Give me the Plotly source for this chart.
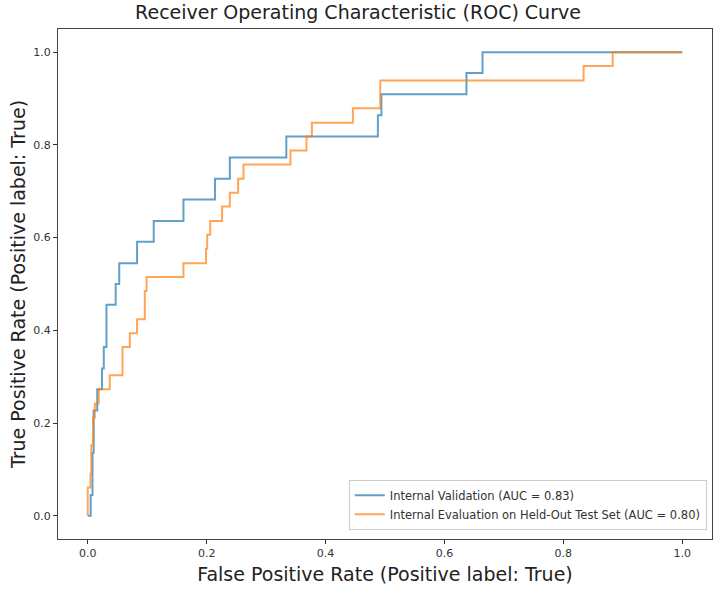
import plotly.graph_objects as go

# ROC corner points
val_fpr = [0.0, 0.005, 0.005, 0.008, 0.008, 0.010, 0.010, 0.016, 0.016, 0.024,
           0.024, 0.027, 0.027, 0.0315, 0.0315, 0.047, 0.047, 0.053, 0.053, 0.083,
           0.083, 0.111, 0.111, 0.161, 0.161, 0.214, 0.214, 0.239, 0.239, 0.334,
           0.334, 0.488, 0.488, 0.494, 0.494, 0.637, 0.637, 0.664, 0.664, 1.0]
val_tpr = [0.0, 0.0, 0.045, 0.045, 0.136, 0.136, 0.227, 0.227, 0.273, 0.273,
           0.318, 0.318, 0.364, 0.364, 0.455, 0.455, 0.5, 0.5, 0.545, 0.545,
           0.591, 0.591, 0.636, 0.636, 0.682, 0.682, 0.727, 0.727, 0.773, 0.773,
           0.818, 0.818, 0.864, 0.864, 0.909, 0.909, 0.955, 0.955, 1.0, 1.0]

test_fpr = [0.0, 0.0, 0.0046, 0.0046, 0.006, 0.006, 0.009, 0.009, 0.012, 0.012,
            0.0185, 0.0185, 0.037, 0.037, 0.0585, 0.0585, 0.0708, 0.0708, 0.083, 0.083,
            0.096, 0.096, 0.099, 0.099, 0.161, 0.161, 0.199, 0.199, 0.201, 0.201,
            0.206, 0.206, 0.226, 0.226, 0.239, 0.239, 0.253, 0.253, 0.262, 0.262,
            0.341, 0.341, 0.368, 0.368, 0.377, 0.377, 0.446, 0.446, 0.492, 0.492,
            0.834, 0.834, 0.883, 0.883, 1.0]
test_tpr = [0.0, 0.061, 0.061, 0.091, 0.091, 0.152, 0.152, 0.212, 0.212, 0.242,
            0.242, 0.273, 0.273, 0.303, 0.303, 0.364, 0.364, 0.394, 0.394, 0.424,
            0.424, 0.485, 0.485, 0.515, 0.515, 0.545, 0.545, 0.576, 0.576, 0.606,
            0.606, 0.636, 0.636, 0.667, 0.667, 0.697, 0.697, 0.727, 0.727, 0.758,
            0.758, 0.788, 0.788, 0.818, 0.818, 0.848, 0.848, 0.879, 0.879, 0.939,
            0.939, 0.970, 0.970, 1.0, 1.0]

val_name = "Internal Validation (AUC = 0.83)"
test_name = "Internal Evaluation on Held-Out Test Set (AUC = 0.80)"
tick_vals = [0.0, 0.2, 0.4, 0.6, 0.8, 1.0]

FONT = "DejaVu Sans"

fig = go.Figure()
fig.add_trace(
    go.Scatter(
        x=val_fpr, y=val_tpr, mode="lines", name=val_name,
        line=dict(color="rgba(31,119,180,0.7)", width=2),
    )
)
fig.add_trace(
    go.Scatter(
        x=test_fpr, y=test_tpr, mode="lines", name=test_name,
        line=dict(color="rgba(255,127,14,0.7)", width=2),
    )
)

axis_common = dict(
    range=[-0.05, 1.05],
    tickvals=tick_vals,
    tickformat=".1f",
    ticks="outside",
    ticklen=4,
    tickcolor="#333",
    tickfont=dict(family=FONT, size=11, color="#333"),
    showgrid=False,
    zeroline=False,
    showline=True,
    linecolor="#444",
    linewidth=1,
    mirror=True,
    automargin=False,
)

fig.update_layout(
    width=716,
    height=589,
    margin=dict(l=58, r=4, t=29, b=50),
    paper_bgcolor="white",
    plot_bgcolor="white",
    title=dict(
        text="Receiver Operating Characteristic (ROC) Curve",
        x=0.5, xanchor="center", y=0.9796, yanchor="middle",
        font=dict(family=FONT, size=19, color="#222"),
    ),
    xaxis=dict(
        axis_common,
        title=dict(text="False Positive Rate (Positive label: True)",
                   font=dict(family=FONT, size=19, color="#222"), standoff=8),
    ),
    yaxis=dict(
        axis_common,
        title=dict(text="True Positive Rate (Positive label: True)",
                   font=dict(family=FONT, size=19, color="#222"), standoff=2),
    ),
    legend=dict(
        x=0.992, y=0.018, xanchor="right", yanchor="bottom",
        bgcolor="white", bordercolor="#ccc", borderwidth=1,
        font=dict(family=FONT, size=11.5, color="#333"),
        tracegroupgap=0, itemwidth=30,
    ),
)

# drop the default 8px body margin so the figure sits at the page corner
fig.write_html(
    "out.html",
    config={"displayModeBar": False},
    post_script="document.body.style.margin = '0';",
)
